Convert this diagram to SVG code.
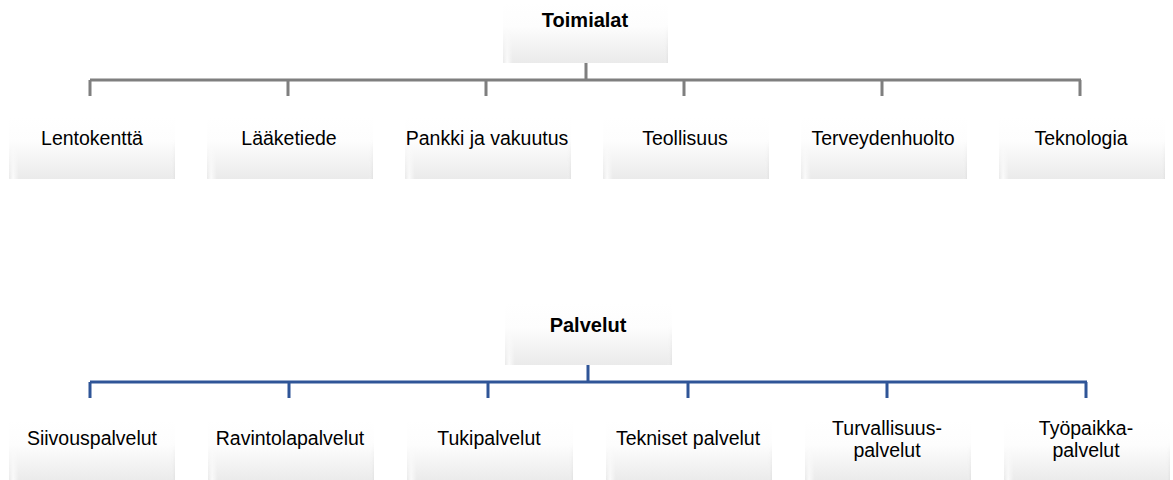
<svg xmlns="http://www.w3.org/2000/svg" width="1173" height="480" viewBox="0 0 1173 480">
<defs>
<linearGradient id="g" x1="0" y1="0" x2="0" y2="1">
<stop offset="0" stop-color="#ffffff"/>
<stop offset="0.4" stop-color="#fdfdfd"/>
<stop offset="1" stop-color="#eaeaea"/>
</linearGradient>
<linearGradient id="edge" x1="0" y1="0" x2="1" y2="0">
<stop offset="0" stop-color="#ffffff" stop-opacity="0"/>
<stop offset="0.025" stop-color="#ffffff" stop-opacity="0.8"/>
<stop offset="0.06" stop-color="#ffffff" stop-opacity="0"/>
<stop offset="0.97" stop-color="#ffffff" stop-opacity="0"/>
<stop offset="1" stop-color="#d8d8d8" stop-opacity="0.5"/>
</linearGradient>
<linearGradient id="fade" x1="0" y1="0" x2="0" y2="1">
<stop offset="0.35" stop-color="#fff" stop-opacity="0"/>
<stop offset="1" stop-color="#fff" stop-opacity="1"/>
</linearGradient>
<mask id="m" maskContentUnits="objectBoundingBox"><rect width="1" height="1" fill="url(#fade)"/></mask>
</defs>
<style>
.box{fill:url(#g);stroke:none}
.bev{fill:url(#edge);mask:url(#m)}
.t{font-family:"Liberation Sans",Arial,sans-serif;font-size:19.5px;fill:#000;text-anchor:middle}
.b{font-family:"Liberation Sans",Arial,sans-serif;font-size:20px;font-weight:bold;fill:#000;text-anchor:middle}
.cg{stroke:#7f7f7f;stroke-width:3;fill:none}
.cb{stroke:#2f5597;stroke-width:3;fill:none}
</style>
<rect width="1173" height="480" fill="#ffffff"/>
<g id="connectors">
<path class="cg" d="M586 63V80M90 80H1081M90 80V96M288 80V96M486 80V96M684 80V96M882 80V96M1080 80V96"/>
<path class="cb" d="M588 365V382M90 382H1087M90 382V398M289 382V398M488 382V398M688 382V398M887 382V398M1086 382V398"/>
</g>
<g id="toimialat"><rect class="box" x="503" y="2" width="165" height="61"/><rect class="bev" x="503" y="2" width="165" height="61"/><text class="b" x="585" y="27">Toimialat</text></g>
<g id="lentokentta"><rect class="box" x="9" y="117" width="166" height="62"/><rect class="bev" x="9" y="117" width="166" height="62"/><text class="t" x="92" y="145">Lentokenttä</text></g>
<g id="laaketiede"><rect class="box" x="207" y="117" width="166" height="62"/><rect class="bev" x="207" y="117" width="166" height="62"/><text class="t" x="289" y="145">Lääketiede</text></g>
<g id="pankki"><rect class="box" x="405" y="117" width="166" height="62"/><rect class="bev" x="405" y="117" width="166" height="62"/><text class="t" x="487" y="145">Pankki ja vakuutus</text></g>
<g id="teollisuus"><rect class="box" x="603" y="117" width="166" height="62"/><rect class="bev" x="603" y="117" width="166" height="62"/><text class="t" x="685" y="145">Teollisuus</text></g>
<g id="terveydenhuolto"><rect class="box" x="801" y="117" width="166" height="62"/><rect class="bev" x="801" y="117" width="166" height="62"/><text class="t" x="883" y="145">Terveydenhuolto</text></g>
<g id="teknologia"><rect class="box" x="999" y="117" width="166" height="62"/><rect class="bev" x="999" y="117" width="166" height="62"/><text class="t" x="1081" y="145">Teknologia</text></g>
<g id="palvelut"><rect class="box" x="505" y="303" width="167" height="62"/><rect class="bev" x="505" y="303" width="167" height="62"/><text class="b" x="588" y="332">Palvelut</text></g>
<g id="siivous"><rect class="box" x="9" y="420" width="166" height="62"/><rect class="bev" x="9" y="420" width="166" height="62"/><text class="t" x="92" y="445">Siivouspalvelut</text></g>
<g id="ravintola"><rect class="box" x="208" y="420" width="166" height="62"/><rect class="bev" x="208" y="420" width="166" height="62"/><text class="t" x="290" y="445">Ravintolapalvelut</text></g>
<g id="tuki"><rect class="box" x="407" y="420" width="166" height="62"/><rect class="bev" x="407" y="420" width="166" height="62"/><text class="t" x="489" y="445">Tukipalvelut</text></g>
<g id="tekniset"><rect class="box" x="606" y="420" width="166" height="62"/><rect class="bev" x="606" y="420" width="166" height="62"/><text class="t" x="688" y="445">Tekniset palvelut</text></g>
<g id="turvallisuus"><rect class="box" x="805" y="420" width="166" height="62"/><rect class="bev" x="805" y="420" width="166" height="62"/><text class="t" x="887" y="435">Turvallisuus-</text><text class="t" x="887" y="457">palvelut</text></g>
<g id="tyopaikka"><rect class="box" x="1004" y="420" width="166" height="62"/><rect class="bev" x="1004" y="420" width="166" height="62"/><text class="t" x="1086" y="435">Työpaikka-</text><text class="t" x="1086" y="457">palvelut</text></g>
</svg>
